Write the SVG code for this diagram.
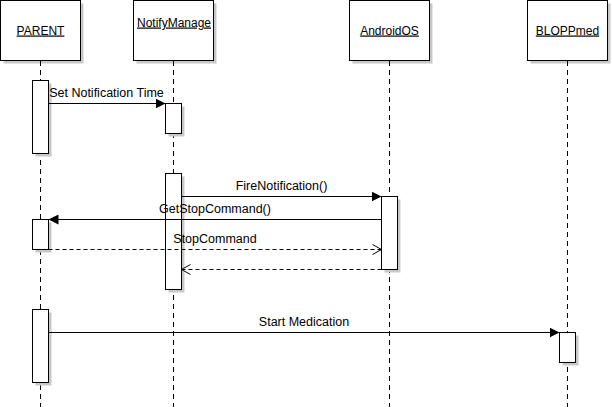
<svg xmlns="http://www.w3.org/2000/svg" width="612" height="407" viewBox="0 0 612 407">
<style>
.box{fill:#fff;stroke:#000;stroke-width:1}
.shadow{fill:#c8c8c8;stroke:none}
.life{stroke:#000;stroke-width:1;stroke-dasharray:5,4;fill:none}
.msg{stroke:#000;stroke-width:1;fill:none}
.ret{stroke:#000;stroke-width:1;stroke-dasharray:4,3;fill:none}
text{font-family:"Liberation Sans",Arial,Helvetica,sans-serif;font-size:12px;fill:#000}
.hdr{text-decoration:underline}
.c{text-anchor:middle}
.lbl{font-size:12.5px}
</style>
<defs>
<marker id="filled" viewBox="0 0 10 10" refX="10" refY="5" markerWidth="10" markerHeight="10" markerUnits="userSpaceOnUse" orient="auto">
<path d="M0,0 L10,5 L0,10 z" fill="#000"/>
</marker>
<marker id="open" viewBox="0 0 10 12" refX="10" refY="6" markerWidth="10" markerHeight="12" markerUnits="userSpaceOnUse" orient="auto">
<path d="M1,1 L10,6 L1,11" fill="none" stroke="#000" stroke-width="1"/>
</marker>
<clipPath id="nmclip"><rect x="133.5" y="0" width="80" height="60"/></clipPath>
</defs>

<g id="PARENT">
<rect class="shadow" x="3.5" y="3.5" width="80" height="60"/>
<rect class="box" x="0.5" y="0.5" width="80" height="60"/>
<text class="hdr c" x="40.5" y="34.5">PARENT</text>
<line class="life" x1="40.5" y1="61" x2="40.5" y2="407"/>
<rect class="shadow" x="35.5" y="83.5" width="16" height="73"/>
<rect class="box" x="32.5" y="80.5" width="16" height="73"/>
<rect class="shadow" x="35.5" y="222.5" width="16" height="30"/>
<rect class="box" x="32.5" y="219.5" width="16" height="30"/>
<rect class="shadow" x="35.5" y="312.5" width="16" height="73"/>
<rect class="box" x="32.5" y="309.5" width="16" height="73"/>
</g>

<g id="NotifyManage">
<rect class="shadow" x="136.5" y="3.5" width="80" height="60"/>
<rect class="box" x="133.5" y="0.5" width="80" height="60"/>
<text class="hdr" x="137" y="26.5" clip-path="url(#nmclip)">NotifyManage</text>
<line class="life" x1="173.5" y1="61" x2="173.5" y2="407"/>
<rect class="shadow" x="168.5" y="106.5" width="16" height="30"/>
<rect class="box" x="165.5" y="103.5" width="16" height="30"/>
<rect class="shadow" x="168.5" y="176.5" width="16" height="116"/>
<rect class="box" x="165.5" y="173.5" width="16" height="116"/>
</g>

<g id="AndroidOS">
<rect class="shadow" x="352.5" y="3.5" width="80" height="60"/>
<rect class="box" x="349.5" y="0.5" width="80" height="60"/>
<text class="hdr c" x="389.5" y="34.5">AndroidOS</text>
<line class="life" x1="389.5" y1="61" x2="389.5" y2="407"/>
<rect class="shadow" x="384.5" y="199.5" width="16" height="73"/>
<rect class="box" x="381.5" y="196.5" width="16" height="73"/>
</g>

<g id="BLOPPmed">
<rect class="shadow" x="530.5" y="3.5" width="80" height="60"/>
<rect class="box" x="527.5" y="0.5" width="80" height="60"/>
<text class="hdr c" x="567.5" y="34.5">BLOPPmed</text>
<line class="life" x1="567.5" y1="61" x2="567.5" y2="407"/>
<rect class="shadow" x="562.5" y="335.5" width="16" height="30"/>
<rect class="box" x="559.5" y="332.5" width="16" height="30"/>
</g>

<g id="connectors">
<line class="msg" x1="48.5" y1="103.5" x2="165.5" y2="103.5" marker-end="url(#filled)"/>
<text class="c lbl" x="106.5" y="97">Set Notification Time</text>
<line class="msg" x1="181.5" y1="196.5" x2="381.5" y2="196.5" marker-end="url(#filled)"/>
<text class="c lbl" x="281.5" y="190">FireNotification()</text>
<line class="msg" x1="381.5" y1="219.5" x2="48.5" y2="219.5" marker-end="url(#filled)"/>
<text class="c lbl" x="215" y="213">GetStopCommand()</text>
<line class="ret" x1="48.5" y1="249.5" x2="381.5" y2="249.5" marker-end="url(#open)"/>
<text class="c lbl" x="215" y="243">StopCommand</text>
<line class="ret" x1="381.5" y1="269.5" x2="181.5" y2="269.5" marker-end="url(#open)"/>
<line class="msg" x1="48.5" y1="332.5" x2="559.5" y2="332.5" marker-end="url(#filled)"/>
<text class="c lbl" x="304" y="326">Start Medication</text>
</g>
</svg>
